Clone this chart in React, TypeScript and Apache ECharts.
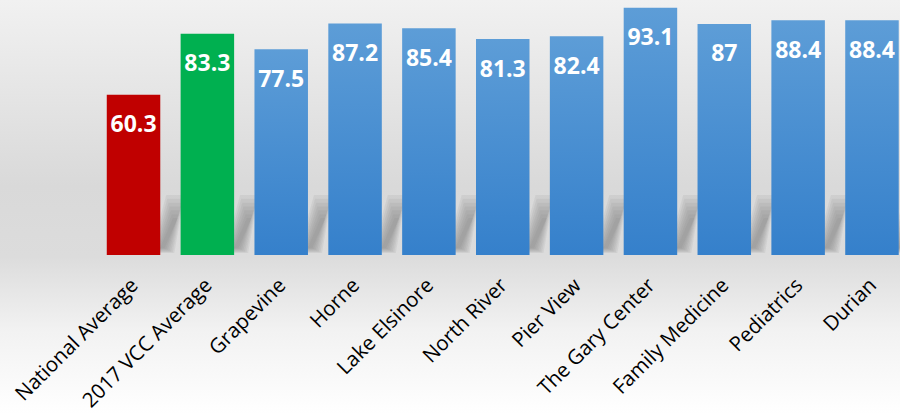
import React, { useEffect, useRef } from "react";
import * as echarts from "echarts";

const categories = [
  "National Average",
  "2017 VCC Average",
  "Grapevine",
  "Horne",
  "Lake Elsinore",
  "North River",
  "Pier View",
  "The Gary Center",
  "Family Medicine",
  "Pediatrics",
  "Durian",
];
const values = [60.3, 83.3, 77.5, 87.2, 85.4, 81.3, 82.4, 93.1, 87, 88.4, 88.4];
const barKinds = ["red", "green", "blue", "blue", "blue", "blue", "blue", "blue", "blue", "blue", "blue"];

const blueFill = new echarts.graphic.LinearGradient(0, 0, 0, 1, [
  { offset: 0, color: "#5d9dd7" },
  { offset: 1, color: "#3580cb" },
]);
const fills: Record<string, any> = { red: "#c00000", green: "#00b050", blue: blueFill };

export default function App() {
  const ref = useRef<HTMLDivElement>(null);
  useEffect(() => {
    if (!ref.current) return;
    const chart = echarts.init(ref.current, null, { renderer: "svg" });
    chart.setOption({
      animation: false,
      backgroundColor: new echarts.graphic.LinearGradient(0, 0, 0, 1, [
        { offset: 0, color: "#f1f1f1" },
        { offset: 0.45, color: "#d9d9d9" },
        { offset: 0.62, color: "#dcdcdc" },
        { offset: 0.8, color: "#f2f2f2" },
        { offset: 1, color: "#ffffff" },
      ]),
      grid: { left: 96.6, width: 812.3, top: 0, height: 255, outerBoundsMode: "none", containLabel: false },
      xAxis: {
        type: "category",
        data: categories,
        axisLine: { show: false },
        axisTick: { show: false },
        axisLabel: {
          rotate: 45,
          interval: 0,
          margin: 26,
          color: "#000",
          fontFamily: "Open Sans",
          fontSize: 20.5,
        },
      },
      yAxis: {
        type: "value",
        min: 0,
        max: 96,
        show: false,
        splitLine: { show: false },
      },
      series: [
        {
          type: "custom",
          z: 1,
          silent: true,
          data: values.map((v, i) => [i, v]),
          renderItem: (params: any, api: any) => {
            const base = api.coord([api.value(0), 0]);
            const xr = base[0] + 26.75;
            const b = base[1];
            const layers = [];
            for (let k = 0; k < 7; k++) {
              const d = k * 1.6;
              layers.push({
                type: "polygon",
                shape: {
                  points: [
                    [xr - 10 + d, b - 2 - d * 0.5],
                    [xr + 14 - d, b - 2 - d * 0.5],
                    [xr + 24 - d * 0.7, b - 60 + d * 2.4],
                    [xr + 6 + d * 0.7, b - 60 + d * 2.4],
                  ],
                },
                style: { fill: "rgba(120,120,120,0.1)" },
              });
            }
            return { type: "group", children: layers };
          },
        },
        {
          type: "bar",
          z: 2,
          barWidth: 53.5,
          data: values.map((v, i) => ({ value: v, itemStyle: { color: fills[barKinds[i]] } })),
          label: {
            show: true,
            position: "insideTop",
            distance: 17,
            color: "#ffffff",
            fontFamily: "Open Sans",
            fontWeight: "bold",
            fontSize: 23,
          },
        },
      ],
    });
    return () => chart.dispose();
  }, []);
  return (
    <div
      ref={ref}
      style={{ position: "absolute", left: 0, top: 0, width: 900, height: 414 }}
    />
  );
}
